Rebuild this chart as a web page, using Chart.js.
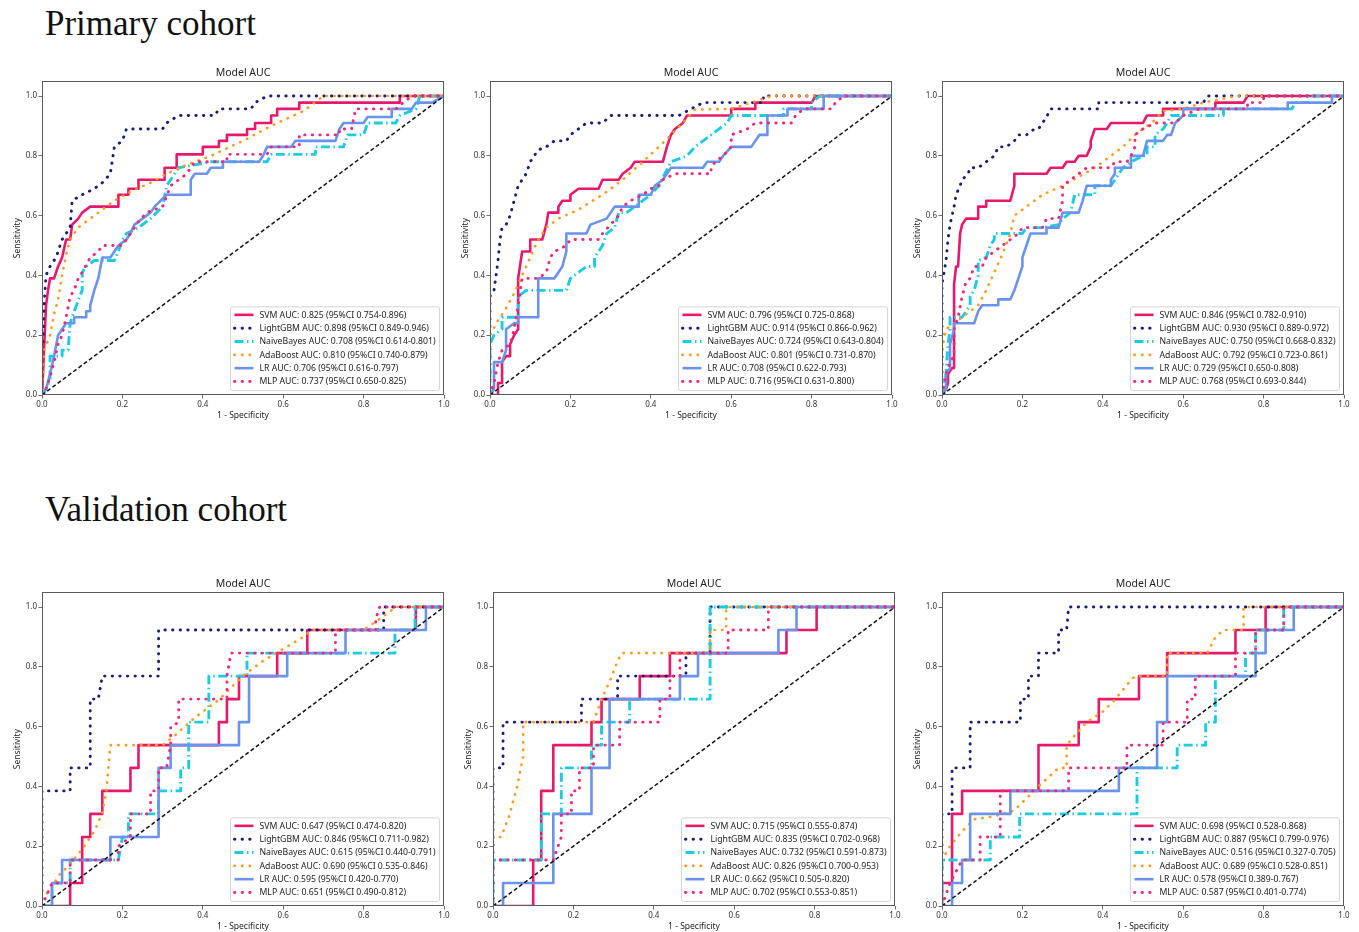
<!DOCTYPE html>
<html><head><meta charset="utf-8">
<script src="https://cdn.jsdelivr.net/npm/chart.js@4.4.0/dist/chart.umd.min.js"></script>
<style>
html,body{margin:0;padding:0;background:#fff;overflow:hidden;width:1359px;height:932px}
.hd{position:absolute;left:45px;font-family:"Liberation Serif","Times New Roman",serif;font-size:35px;line-height:35px;color:#111;white-space:nowrap}
canvas{position:absolute}
</style></head><body>
<div class="hd" style="top:6px">Primary cohort</div>
<div class="hd" style="top:492px">Validation cohort</div>
<canvas id="c1" width="454" height="365" style="left:0px;top:62px"></canvas>
<canvas id="c2" width="454" height="365" style="left:448px;top:62px"></canvas>
<canvas id="c3" width="454" height="365" style="left:900px;top:62px"></canvas>
<canvas id="c4" width="454" height="365" style="left:0px;top:573px"></canvas>
<canvas id="c5" width="454" height="365" style="left:451px;top:573px"></canvas>
<canvas id="c6" width="454" height="365" style="left:900px;top:573px"></canvas>
<script>
// ---------- DATA ----------
const MODELS = ['SVM','LightGBM','NaiveBayes','AdaBoost','LR','MLP'];
const TICKS = [0,0.2,0.4,0.6,0.8,1.0];
const DIAG = [[0,0],[1,1]];

// Primary cohort, plot 1
const P1_SVM = [[0,0],[0.005,0.15],[0.01,0.3],[0.015,0.35],[0.02,0.39],[0.03,0.39],[0.04,0.43],[0.05,0.46],[0.06,0.52],[0.07,0.52],[0.075,0.57],[0.09,0.59],[0.1,0.61],[0.12,0.63],[0.19,0.63],[0.19,0.67],[0.215,0.67],[0.215,0.69],[0.24,0.69],[0.24,0.72],[0.305,0.72],[0.305,0.76],[0.335,0.76],[0.335,0.805],[0.4,0.805],[0.4,0.83],[0.44,0.83],[0.44,0.85],[0.46,0.85],[0.46,0.87],[0.51,0.87],[0.51,0.89],[0.53,0.89],[0.53,0.91],[0.57,0.91],[0.57,0.935],[0.585,0.935],[0.585,0.957],[0.64,0.957],[0.64,0.978],[0.89,0.978],[0.89,1],[1,1]];
const P1_LGBM = [[0,0],[0.003,0.2],[0.005,0.3],[0.01,0.4],[0.02,0.43],[0.035,0.46],[0.05,0.52],[0.06,0.54],[0.07,0.56],[0.075,0.65],[0.1,0.67],[0.13,0.69],[0.15,0.71],[0.17,0.74],[0.18,0.83],[0.2,0.85],[0.21,0.89],[0.3,0.89],[0.31,0.91],[0.34,0.935],[0.43,0.935],[0.44,0.957],[0.52,0.957],[0.53,0.978],[0.56,1],[1,1]];
const P1_NB = [[0,0],[0.01,0.02],[0.02,0.05],[0.02,0.13],[0.05,0.13],[0.05,0.15],[0.065,0.15],[0.07,0.24],[0.08,0.28],[0.1,0.35],[0.1,0.41],[0.11,0.43],[0.13,0.45],[0.18,0.45],[0.19,0.48],[0.2,0.52],[0.21,0.54],[0.24,0.56],[0.27,0.59],[0.3,0.63],[0.31,0.7],[0.32,0.72],[0.34,0.76],[0.42,0.78],[0.56,0.78],[0.57,0.805],[0.68,0.805],[0.68,0.83],[0.75,0.83],[0.76,0.87],[0.8,0.87],[0.81,0.91],[0.88,0.91],[0.89,0.935],[0.93,0.957],[0.94,1],[1,1]];
const P1_ADA = [[0,0],[0.005,0.15],[0.02,0.2],[0.03,0.27],[0.04,0.32],[0.05,0.4],[0.06,0.47],[0.07,0.52],[0.09,0.56],[0.12,0.59],[0.15,0.62],[0.18,0.65],[0.22,0.68],[0.27,0.71],[0.31,0.74],[0.36,0.77],[0.42,0.8],[0.5,0.85],[0.57,0.9],[0.65,0.95],[0.7,1],[1,1]];
const P1_LR = [[0,0],[0.01,0.02],[0.02,0.07],[0.03,0.13],[0.04,0.2],[0.05,0.22],[0.06,0.24],[0.08,0.24],[0.08,0.26],[0.11,0.26],[0.11,0.28],[0.12,0.28],[0.12,0.3],[0.13,0.35],[0.14,0.39],[0.15,0.46],[0.17,0.46],[0.19,0.5],[0.21,0.52],[0.22,0.54],[0.23,0.57],[0.25,0.59],[0.27,0.61],[0.28,0.63],[0.31,0.67],[0.37,0.67],[0.37,0.72],[0.38,0.74],[0.41,0.74],[0.42,0.76],[0.45,0.76],[0.45,0.78],[0.54,0.78],[0.55,0.8],[0.56,0.83],[0.62,0.83],[0.63,0.85],[0.73,0.85],[0.74,0.89],[0.75,0.91],[0.8,0.91],[0.81,0.93],[0.87,0.93],[0.87,0.957],[0.92,0.957],[0.93,0.978],[0.97,0.978],[1,1]];
const P1_MLP = [[0,0],[0.01,0.02],[0.02,0.06],[0.03,0.11],[0.04,0.17],[0.05,0.2],[0.06,0.26],[0.07,0.33],[0.08,0.35],[0.09,0.39],[0.1,0.41],[0.12,0.46],[0.14,0.48],[0.15,0.5],[0.2,0.5],[0.22,0.54],[0.24,0.58],[0.26,0.61],[0.3,0.63],[0.32,0.7],[0.36,0.74],[0.38,0.78],[0.46,0.78],[0.46,0.805],[0.56,0.805],[0.57,0.83],[0.64,0.83],[0.64,0.87],[0.74,0.87],[0.74,0.89],[0.77,0.89],[0.78,0.957],[0.88,0.957],[0.9,0.98],[0.92,1],[1,1]];
const P1_LEGEND = ['SVM AUC: 0.825 (95%CI 0.754-0.896)','LightGBM AUC: 0.898 (95%CI 0.849-0.946)','NaiveBayes AUC: 0.708 (95%CI 0.614-0.801)','AdaBoost AUC: 0.810 (95%CI 0.740-0.879)','LR AUC: 0.706 (95%CI 0.616-0.797)','MLP AUC: 0.737 (95%CI 0.650-0.825)'];

// Primary cohort, plot 2
const P2_SVM = [[0,0],[0.02,0],[0.02,0.04],[0.03,0.04],[0.03,0.11],[0.04,0.13],[0.05,0.13],[0.05,0.17],[0.06,0.2],[0.07,0.22],[0.07,0.39],[0.08,0.48],[0.1,0.48],[0.1,0.52],[0.13,0.52],[0.14,0.57],[0.145,0.61],[0.17,0.61],[0.17,0.63],[0.18,0.65],[0.2,0.65],[0.2,0.67],[0.22,0.69],[0.27,0.69],[0.28,0.72],[0.32,0.72],[0.33,0.74],[0.35,0.76],[0.36,0.78],[0.43,0.78],[0.44,0.83],[0.45,0.87],[0.46,0.89],[0.48,0.91],[0.49,0.935],[0.6,0.935],[0.6,0.957],[0.66,0.957],[0.66,0.978],[0.8,0.978],[0.81,1],[1,1]];
const P2_LGBM = [[0,0],[0,0.33],[0.01,0.35],[0.015,0.4],[0.02,0.45],[0.025,0.52],[0.03,0.56],[0.04,0.57],[0.05,0.6],[0.06,0.65],[0.07,0.7],[0.09,0.74],[0.1,0.78],[0.12,0.82],[0.14,0.83],[0.16,0.85],[0.19,0.85],[0.2,0.87],[0.22,0.89],[0.24,0.91],[0.28,0.91],[0.3,0.935],[0.47,0.935],[0.5,0.957],[0.53,0.978],[0.68,0.978],[0.68,1],[1,1]];
const P2_NB = [[0,0],[0,0.17],[0.01,0.2],[0.03,0.22],[0.03,0.26],[0.07,0.26],[0.07,0.33],[0.09,0.35],[0.19,0.35],[0.2,0.39],[0.22,0.41],[0.24,0.43],[0.26,0.43],[0.26,0.46],[0.28,0.5],[0.29,0.54],[0.31,0.56],[0.32,0.61],[0.34,0.61],[0.36,0.63],[0.38,0.65],[0.4,0.67],[0.42,0.7],[0.45,0.78],[0.49,0.8],[0.51,0.83],[0.53,0.85],[0.55,0.87],[0.57,0.89],[0.59,0.91],[0.6,0.935],[0.73,0.935],[0.73,0.957],[0.8,0.957],[0.8,0.978],[0.82,1],[1,1]];
const P2_ADA = [[0,0],[0,0.2],[0.02,0.25],[0.04,0.29],[0.06,0.34],[0.08,0.4],[0.1,0.46],[0.12,0.52],[0.14,0.56],[0.17,0.59],[0.22,0.62],[0.28,0.67],[0.33,0.72],[0.38,0.78],[0.42,0.83],[0.45,0.87],[0.48,0.91],[0.51,0.955],[0.6,0.957],[0.65,0.978],[0.7,1],[1,1]];
const P2_LR = [[0,0],[0.01,0.02],[0.01,0.11],[0.03,0.11],[0.04,0.15],[0.04,0.22],[0.06,0.24],[0.07,0.24],[0.07,0.26],[0.12,0.26],[0.12,0.39],[0.16,0.39],[0.17,0.41],[0.18,0.43],[0.19,0.48],[0.19,0.54],[0.24,0.54],[0.25,0.57],[0.29,0.59],[0.31,0.63],[0.37,0.63],[0.37,0.67],[0.4,0.67],[0.41,0.7],[0.43,0.72],[0.44,0.74],[0.45,0.76],[0.53,0.76],[0.54,0.78],[0.57,0.78],[0.58,0.8],[0.6,0.83],[0.65,0.83],[0.66,0.85],[0.67,0.87],[0.69,0.87],[0.69,0.935],[0.74,0.935],[0.74,0.957],[0.83,0.957],[0.83,1],[1,1]];
const P2_MLP = [[0,0],[0.01,0.04],[0.02,0.11],[0.03,0.15],[0.05,0.17],[0.06,0.22],[0.07,0.3],[0.08,0.39],[0.12,0.39],[0.14,0.41],[0.15,0.46],[0.16,0.48],[0.19,0.5],[0.2,0.52],[0.27,0.52],[0.28,0.54],[0.3,0.57],[0.32,0.6],[0.33,0.63],[0.35,0.65],[0.38,0.67],[0.4,0.69],[0.42,0.7],[0.43,0.72],[0.46,0.74],[0.55,0.74],[0.55,0.76],[0.56,0.78],[0.58,0.8],[0.6,0.83],[0.6,0.87],[0.64,0.89],[0.66,0.91],[0.75,0.91],[0.76,0.935],[0.78,0.957],[0.85,0.957],[0.86,0.98],[0.88,1],[1,1]];
const P2_LEGEND = ['SVM AUC: 0.796 (95%CI 0.725-0.868)','LightGBM AUC: 0.914 (95%CI 0.866-0.962)','NaiveBayes AUC: 0.724 (95%CI 0.643-0.804)','AdaBoost AUC: 0.801 (95%CI 0.731-0.870)','LR AUC: 0.708 (95%CI 0.622-0.793)','MLP AUC: 0.716 (95%CI 0.631-0.800)'];

// Primary cohort, plot 3
const P3_SVM = [[0,0],[0.01,0.02],[0.015,0.04],[0.015,0.07],[0.025,0.09],[0.03,0.09],[0.03,0.17],[0.03,0.37],[0.035,0.43],[0.04,0.43],[0.045,0.54],[0.05,0.57],[0.06,0.59],[0.09,0.59],[0.09,0.63],[0.11,0.63],[0.11,0.65],[0.17,0.65],[0.18,0.7],[0.18,0.74],[0.26,0.74],[0.27,0.76],[0.3,0.76],[0.31,0.78],[0.33,0.78],[0.34,0.8],[0.36,0.8],[0.37,0.83],[0.37,0.85],[0.38,0.89],[0.41,0.89],[0.42,0.91],[0.5,0.91],[0.51,0.935],[0.55,0.935],[0.55,0.957],[0.68,0.957],[0.68,0.978],[0.75,0.978],[0.76,1],[1,1]];
const P3_LGBM = [[0,0],[0,0.37],[0.01,0.45],[0.015,0.52],[0.02,0.57],[0.03,0.63],[0.035,0.67],[0.045,0.7],[0.05,0.72],[0.065,0.74],[0.07,0.76],[0.09,0.76],[0.11,0.78],[0.13,0.8],[0.14,0.83],[0.16,0.83],[0.18,0.85],[0.19,0.87],[0.21,0.87],[0.23,0.89],[0.24,0.89],[0.25,0.91],[0.26,0.93],[0.27,0.957],[0.39,0.957],[0.39,0.978],[0.65,0.978],[0.66,1],[1,1]];
const P3_NB = [[0,0],[0.01,0.07],[0.015,0.17],[0.02,0.22],[0.02,0.26],[0.05,0.26],[0.06,0.28],[0.07,0.3],[0.07,0.33],[0.08,0.35],[0.09,0.4],[0.09,0.45],[0.11,0.46],[0.12,0.5],[0.13,0.52],[0.13,0.54],[0.2,0.54],[0.21,0.56],[0.25,0.56],[0.29,0.57],[0.3,0.59],[0.32,0.61],[0.33,0.67],[0.38,0.67],[0.38,0.7],[0.42,0.7],[0.43,0.72],[0.44,0.74],[0.45,0.76],[0.47,0.78],[0.5,0.8],[0.51,0.8],[0.51,0.83],[0.53,0.83],[0.53,0.87],[0.55,0.89],[0.56,0.91],[0.57,0.935],[0.7,0.935],[0.7,0.957],[0.87,0.957],[0.88,0.978],[0.91,0.978],[0.91,1],[1,1]];
const P3_ADA = [[0,0],[0,0.15],[0.01,0.22],[0.03,0.24],[0.05,0.26],[0.07,0.28],[0.09,0.3],[0.11,0.35],[0.13,0.41],[0.15,0.47],[0.17,0.54],[0.18,0.6],[0.21,0.63],[0.25,0.67],[0.3,0.7],[0.34,0.73],[0.38,0.76],[0.42,0.8],[0.45,0.83],[0.48,0.87],[0.51,0.9],[0.53,0.92],[0.55,0.95],[0.6,0.957],[0.65,0.978],[0.73,1],[1,1]];
const P3_LR = [[0,0],[0.01,0.02],[0.01,0.07],[0.02,0.09],[0.02,0.17],[0.03,0.22],[0.03,0.24],[0.08,0.24],[0.09,0.28],[0.1,0.3],[0.14,0.3],[0.14,0.32],[0.17,0.32],[0.18,0.35],[0.19,0.39],[0.2,0.43],[0.2,0.46],[0.21,0.5],[0.22,0.54],[0.26,0.54],[0.26,0.56],[0.29,0.56],[0.3,0.61],[0.34,0.61],[0.35,0.65],[0.36,0.7],[0.42,0.7],[0.42,0.72],[0.43,0.74],[0.43,0.76],[0.47,0.76],[0.47,0.8],[0.5,0.8],[0.51,0.85],[0.55,0.85],[0.56,0.87],[0.57,0.87],[0.58,0.91],[0.6,0.935],[0.6,0.957],[0.86,0.957],[0.86,0.978],[0.97,0.978],[0.97,1],[1,1]];
const P3_MLP = [[0,0],[0.01,0.07],[0.02,0.11],[0.03,0.13],[0.03,0.22],[0.04,0.26],[0.05,0.33],[0.06,0.38],[0.07,0.39],[0.08,0.43],[0.1,0.43],[0.11,0.46],[0.13,0.48],[0.15,0.5],[0.17,0.52],[0.19,0.54],[0.2,0.56],[0.25,0.56],[0.26,0.59],[0.29,0.59],[0.3,0.65],[0.3,0.7],[0.32,0.72],[0.34,0.74],[0.36,0.76],[0.42,0.76],[0.43,0.78],[0.46,0.78],[0.47,0.8],[0.48,0.83],[0.48,0.87],[0.5,0.89],[0.53,0.91],[0.58,0.91],[0.6,0.935],[0.64,0.957],[0.76,0.957],[0.76,0.978],[0.8,0.978],[0.8,1],[1,1]];
const P3_LEGEND = ['SVM AUC: 0.846 (95%CI 0.782-0.910)','LightGBM AUC: 0.930 (95%CI 0.889-0.972)','NaiveBayes AUC: 0.750 (95%CI 0.668-0.832)','AdaBoost AUC: 0.792 (95%CI 0.723-0.861)','LR AUC: 0.729 (95%CI 0.650-0.808)','MLP AUC: 0.768 (95%CI 0.693-0.844)'];

// Validation cohort, plot 4
const P4_SVM = [[0,0],[0.07,0],[0.07,0.077],[0.1,0.077],[0.1,0.231],[0.12,0.231],[0.12,0.308],[0.15,0.308],[0.15,0.385],[0.22,0.385],[0.22,0.462],[0.24,0.462],[0.24,0.538],[0.44,0.538],[0.44,0.615],[0.46,0.615],[0.46,0.692],[0.49,0.692],[0.49,0.769],[0.585,0.769],[0.585,0.846],[0.66,0.846],[0.66,0.923],[0.93,0.923],[0.93,1],[1,1]];
const P4_LGBM = [[0,0],[0,0.385],[0.07,0.385],[0.07,0.462],[0.12,0.462],[0.12,0.692],[0.14,0.692],[0.15,0.769],[0.29,0.769],[0.29,0.923],[0.85,0.923],[0.85,1],[1,1]];
const P4_NB = [[0,0],[0.025,0],[0.025,0.077],[0.07,0.077],[0.07,0.154],[0.19,0.154],[0.2,0.231],[0.215,0.231],[0.215,0.308],[0.29,0.308],[0.29,0.385],[0.345,0.385],[0.345,0.462],[0.365,0.462],[0.365,0.615],[0.415,0.615],[0.415,0.769],[0.51,0.769],[0.51,0.846],[0.878,0.846],[0.878,0.923],[0.928,0.923],[0.928,1],[1,1]];
const P4_ADA = [[0,0],[0,0.03],[0.02,0.05],[0.04,0.1],[0.07,0.14],[0.1,0.19],[0.13,0.25],[0.15,0.31],[0.16,0.385],[0.17,0.538],[0.3,0.538],[0.33,0.57],[0.38,0.63],[0.44,0.69],[0.5,0.77],[0.55,0.82],[0.6,0.86],[0.65,0.9],[0.67,0.923],[0.8,0.923],[0.85,0.97],[0.88,1],[1,1]];
const P4_LR = [[0,0],[0.025,0],[0.025,0.077],[0.05,0.077],[0.05,0.154],[0.17,0.154],[0.17,0.231],[0.29,0.231],[0.29,0.462],[0.32,0.462],[0.32,0.538],[0.49,0.538],[0.49,0.615],[0.515,0.615],[0.515,0.769],[0.61,0.769],[0.61,0.846],[0.755,0.846],[0.755,0.923],[0.955,0.923],[0.955,1],[1,1]];
const P4_MLP = [[0,0],[0.025,0.077],[0.07,0.077],[0.07,0.154],[0.19,0.154],[0.19,0.2],[0.22,0.231],[0.22,0.308],[0.27,0.308],[0.27,0.385],[0.29,0.385],[0.29,0.462],[0.31,0.462],[0.32,0.538],[0.32,0.6],[0.34,0.615],[0.34,0.692],[0.46,0.692],[0.46,0.769],[0.47,0.846],[0.73,0.846],[0.73,0.923],[0.83,0.923],[0.83,0.96],[0.84,1],[1,1]];
const P4_LEGEND = ['SVM AUC: 0.647 (95%CI 0.474-0.820)','LightGBM AUC: 0.846 (95%CI 0.711-0.982)','NaiveBayes AUC: 0.615 (95%CI 0.440-0.791)','AdaBoost AUC: 0.690 (95%CI 0.535-0.846)','LR AUC: 0.595 (95%CI 0.420-0.770)','MLP AUC: 0.651 (95%CI 0.490-0.812)'];

// Validation cohort, plot 5
const P5_SVM = [[0,0],[0.1,0],[0.1,0.154],[0.12,0.154],[0.12,0.385],[0.15,0.385],[0.15,0.538],[0.245,0.538],[0.245,0.615],[0.27,0.615],[0.27,0.692],[0.365,0.692],[0.365,0.769],[0.44,0.769],[0.44,0.846],[0.73,0.846],[0.73,0.923],[0.805,0.923],[0.805,1],[1,1]];
const P5_LGBM = [[0,0],[0,0.462],[0.025,0.462],[0.025,0.615],[0.22,0.615],[0.22,0.692],[0.31,0.692],[0.31,0.769],[0.48,0.769],[0.48,0.846],[0.54,0.846],[0.54,1],[1,1]];
const P5_NB = [[0,0],[0,0.154],[0.12,0.154],[0.12,0.308],[0.17,0.308],[0.17,0.462],[0.245,0.462],[0.245,0.538],[0.27,0.538],[0.27,0.615],[0.34,0.615],[0.34,0.692],[0.54,0.692],[0.54,0.846],[0.54,1],[1,1]];
const P5_ADA = [[0,0],[0,0.231],[0.02,0.231],[0.04,0.3],[0.06,0.4],[0.075,0.5],[0.075,0.615],[0.25,0.615],[0.27,0.692],[0.29,0.75],[0.31,0.82],[0.32,0.846],[0.54,0.846],[0.54,0.923],[0.58,0.923],[0.58,1],[1,1]];
const P5_LR = [[0,0],[0.025,0],[0.025,0.077],[0.15,0.077],[0.15,0.308],[0.245,0.308],[0.245,0.462],[0.29,0.462],[0.29,0.692],[0.465,0.692],[0.465,0.769],[0.51,0.769],[0.51,0.846],[0.71,0.846],[0.71,0.923],[0.755,0.923],[0.755,1],[1,1]];
const P5_MLP = [[0,0],[0,0.154],[0.15,0.154],[0.17,0.231],[0.17,0.308],[0.195,0.308],[0.195,0.385],[0.215,0.385],[0.215,0.462],[0.25,0.462],[0.25,0.538],[0.315,0.538],[0.315,0.615],[0.415,0.615],[0.415,0.692],[0.44,0.692],[0.44,0.769],[0.465,0.769],[0.465,0.846],[0.585,0.846],[0.585,0.923],[0.685,0.923],[0.685,1],[1,1]];
const P5_LEGEND = ['SVM AUC: 0.715 (95%CI 0.555-0.874)','LightGBM AUC: 0.835 (95%CI 0.702-0.968)','NaiveBayes AUC: 0.732 (95%CI 0.591-0.873)','AdaBoost AUC: 0.826 (95%CI 0.700-0.953)','LR AUC: 0.662 (95%CI 0.505-0.820)','MLP AUC: 0.702 (95%CI 0.553-0.851)'];

// Validation cohort, plot 6
const P6_SVM = [[0,0],[0,0.077],[0.025,0.077],[0.025,0.308],[0.05,0.308],[0.05,0.385],[0.24,0.385],[0.24,0.538],[0.34,0.538],[0.34,0.615],[0.39,0.615],[0.39,0.692],[0.49,0.692],[0.49,0.769],[0.56,0.769],[0.56,0.846],[0.73,0.846],[0.73,0.923],[0.805,0.923],[0.805,1],[1,1]];
const P6_LGBM = [[0,0],[0,0.308],[0.025,0.308],[0.025,0.462],[0.07,0.462],[0.07,0.615],[0.195,0.615],[0.195,0.692],[0.215,0.692],[0.215,0.769],[0.24,0.769],[0.24,0.846],[0.29,0.846],[0.29,0.923],[0.31,0.923],[0.315,1],[1,1]];
const P6_NB = [[0,0],[0,0.154],[0.12,0.154],[0.12,0.231],[0.193,0.231],[0.193,0.308],[0.485,0.308],[0.485,0.462],[0.585,0.462],[0.585,0.538],[0.656,0.538],[0.656,0.615],[0.68,0.615],[0.68,0.769],[0.755,0.769],[0.755,0.846],[0.78,0.846],[0.78,0.923],[0.85,0.923],[0.85,1],[1,1]];
const P6_ADA = [[0,0],[0,0.154],[0.02,0.2],[0.05,0.25],[0.08,0.29],[0.13,0.3],[0.18,0.32],[0.21,0.36],[0.24,0.4],[0.29,0.462],[0.31,0.462],[0.31,0.538],[0.33,0.57],[0.36,0.615],[0.4,0.65],[0.43,0.69],[0.46,0.74],[0.48,0.769],[0.56,0.769],[0.56,0.846],[0.66,0.846],[0.68,0.9],[0.7,0.923],[0.75,0.923],[0.75,1],[1,1]];
const P6_LR = [[0,0],[0.025,0],[0.025,0.077],[0.05,0.077],[0.05,0.154],[0.07,0.154],[0.07,0.308],[0.17,0.308],[0.17,0.385],[0.44,0.385],[0.44,0.462],[0.535,0.462],[0.535,0.615],[0.56,0.615],[0.56,0.769],[0.78,0.769],[0.78,0.846],[0.805,0.846],[0.805,0.923],[0.875,0.923],[0.875,1],[1,1]];
const P6_MLP = [[0,0],[0.02,0.077],[0.05,0.154],[0.095,0.154],[0.095,0.231],[0.145,0.231],[0.145,0.385],[0.315,0.385],[0.315,0.462],[0.46,0.462],[0.46,0.538],[0.55,0.538],[0.55,0.615],[0.61,0.615],[0.61,0.692],[0.63,0.692],[0.63,0.769],[0.73,0.769],[0.73,0.846],[0.78,0.846],[0.78,0.923],[0.85,0.923],[0.85,1],[1,1]];
const P6_LEGEND = ['SVM AUC: 0.698 (95%CI 0.528-0.868)','LightGBM AUC: 0.887 (95%CI 0.799-0.976)','NaiveBayes AUC: 0.516 (95%CI 0.327-0.705)','AdaBoost AUC: 0.689 (95%CI 0.528-0.851)','LR AUC: 0.578 (95%CI 0.389-0.767)','MLP AUC: 0.587 (95%CI 0.401-0.774)'];

// ---------- STYLES ----------
const STYLE = [
  {color:'#E8196A', dash:[], width:2.6, cap:'butt'},
  {color:'#1B1B78', dash:[0.4,7.2], width:2.9, cap:'round'},
  {color:'#1CCBE0', dash:[9,3.5,1.5,3.5], width:2.9, cap:'butt'},
  {color:'#FF9A1F', dash:[0.4,7.2], width:2.6, cap:'round'},
  {color:'#6A94EC', dash:[], width:2.6, cap:'butt'},
  {color:'#F2287A', dash:[0.4,7.2], width:2.9, cap:'round'}
];
const FONT = '"Noto Sans", "Open Sans", sans-serif';

const PLOTS = [
  {id:'c1', curves:[P1_SVM,P1_LGBM,P1_NB,P1_ADA,P1_LR,P1_MLP], legend:P1_LEGEND},
  {id:'c2', curves:[P2_SVM,P2_LGBM,P2_NB,P2_ADA,P2_LR,P2_MLP], legend:P2_LEGEND},
  {id:'c3', curves:[P3_SVM,P3_LGBM,P3_NB,P3_ADA,P3_LR,P3_MLP], legend:P3_LEGEND},
  {id:'c4', curves:[P4_SVM,P4_LGBM,P4_NB,P4_ADA,P4_LR,P4_MLP], legend:P4_LEGEND},
  {id:'c5', curves:[P5_SVM,P5_LGBM,P5_NB,P5_ADA,P5_LR,P5_MLP], legend:P5_LEGEND},
  {id:'c6', curves:[P6_SVM,P6_LGBM,P6_NB,P6_ADA,P6_LR,P6_MLP], legend:P6_LEGEND}
];

const framePlugin = {
  id:'frame',
  afterDatasetsDraw(chart){
    const ctx = chart.ctx, a = chart.chartArea;
    ctx.save();
    ctx.strokeStyle = '#5a5a5a'; ctx.lineWidth = 1;
    ctx.strokeRect(Math.round(a.left)+0.5, Math.round(a.top)+0.5, Math.round(a.right-a.left)-1, Math.round(a.bottom-a.top)-1);
    ctx.restore();
  }
};
const legendPlugin = {
  id:'rocLegend',
  afterDraw(chart){
    const ctx = chart.ctx, a = chart.chartArea;
    const items = chart.data.datasets.filter(d => d.inLegend);
    ctx.save();
    ctx.font = '8.7px ' + FONT;
    const tw = Math.max(...items.map(d => ctx.measureText(d.label).width));
    const rowH = 13.33;
    const w = 29 + tw + 4, h = 17 + rowH*(items.length-1);
    const x0 = a.right - 4.5 - w, y0 = a.bottom - 4.5 - h;
    ctx.beginPath();
    ctx.roundRect(x0, y0, w, h, 2);
    ctx.fillStyle = 'rgba(255,255,255,0.85)';
    ctx.fill();
    ctx.strokeStyle = '#d4d4d4'; ctx.lineWidth = 1;
    ctx.stroke();
    items.forEach((d,i) => {
      const cy = y0 + 8 + i*rowH;
      ctx.beginPath();
      ctx.setLineDash(d.borderDash || []);
      ctx.lineCap = d.borderCapStyle || 'butt';
      ctx.strokeStyle = d.borderColor; ctx.lineWidth = d.borderWidth;
      ctx.moveTo(x0+4, cy); ctx.lineTo(x0+23, cy); ctx.stroke();
      ctx.setLineDash([]);
      ctx.fillStyle = '#222'; ctx.textBaseline = 'middle'; ctx.textAlign = 'left';
      ctx.fillText(d.label, x0+29, cy+0.5);
    });
    ctx.restore();
  }
};

function axis(isX){
  return {
    type:'linear', min:0, max: isX ? 1 : 1.05,
    afterBuildTicks: s => { s.ticks = TICKS.map(v => ({value:v})); },
    afterFit: s => { if (isX) s.height = 32; else s.width = 42; },
    grid:{drawOnChartArea:false, drawTicks:true, tickLength:3.5, tickColor:'#444', tickWidth:0.8},
    border:{display:false},
    ticks:{font:{size:8, family:FONT}, color:'#333', padding:1.5, maxRotation:0, autoSkip:false, callback: v => Number(v).toFixed(1)},
    title: isX ? {display:true, text:'1 - Specificity', font:{size:8.5, family:FONT}, color:'#222', padding:{top:0,bottom:6}}
               : {display:true, text:'Sensitivity', font:{size:8.5, family:FONT}, color:'#222', padding:{top:12,bottom:0}}
  };
}

PLOTS.forEach(p => {
  const datasets = p.curves.map((c,i) => ({
    label: p.legend[i], inLegend:true,
    data: c.map(pt => ({x:pt[0], y:pt[1]})),
    borderColor: STYLE[i].color, borderDash: STYLE[i].dash, borderWidth: STYLE[i].width,
    borderCapStyle: STYLE[i].cap, borderJoinStyle:'round',
    pointRadius:0, tension:0, fill:false, order: 6 - i
  }));
  datasets.push({label:'diag', inLegend:false, data: DIAG.map(pt => ({x:pt[0], y:pt[1]})),
    borderColor:'#111', borderDash:[4,2.5], borderWidth:1.5, pointRadius:0, order:-1});
  new Chart(document.getElementById(p.id), {
    type:'line',
    data:{datasets},
    options:{
      responsive:false, animation:false, devicePixelRatio:1,
      layout:{padding:{left:0, right:10, top:0, bottom:0}},
      scales:{x:axis(true), y:axis(false)},
      plugins:{
        legend:{display:false}, tooltip:{enabled:false},
        title:{display:true, text:'Model AUC', fullSize:false, font:{size:10.5, family:FONT, weight:'normal'}, color:'#222', padding:{top:4.5,bottom:2}}
      }
    },
    plugins:[framePlugin, legendPlugin]
  });
});
</script>
</body></html>
